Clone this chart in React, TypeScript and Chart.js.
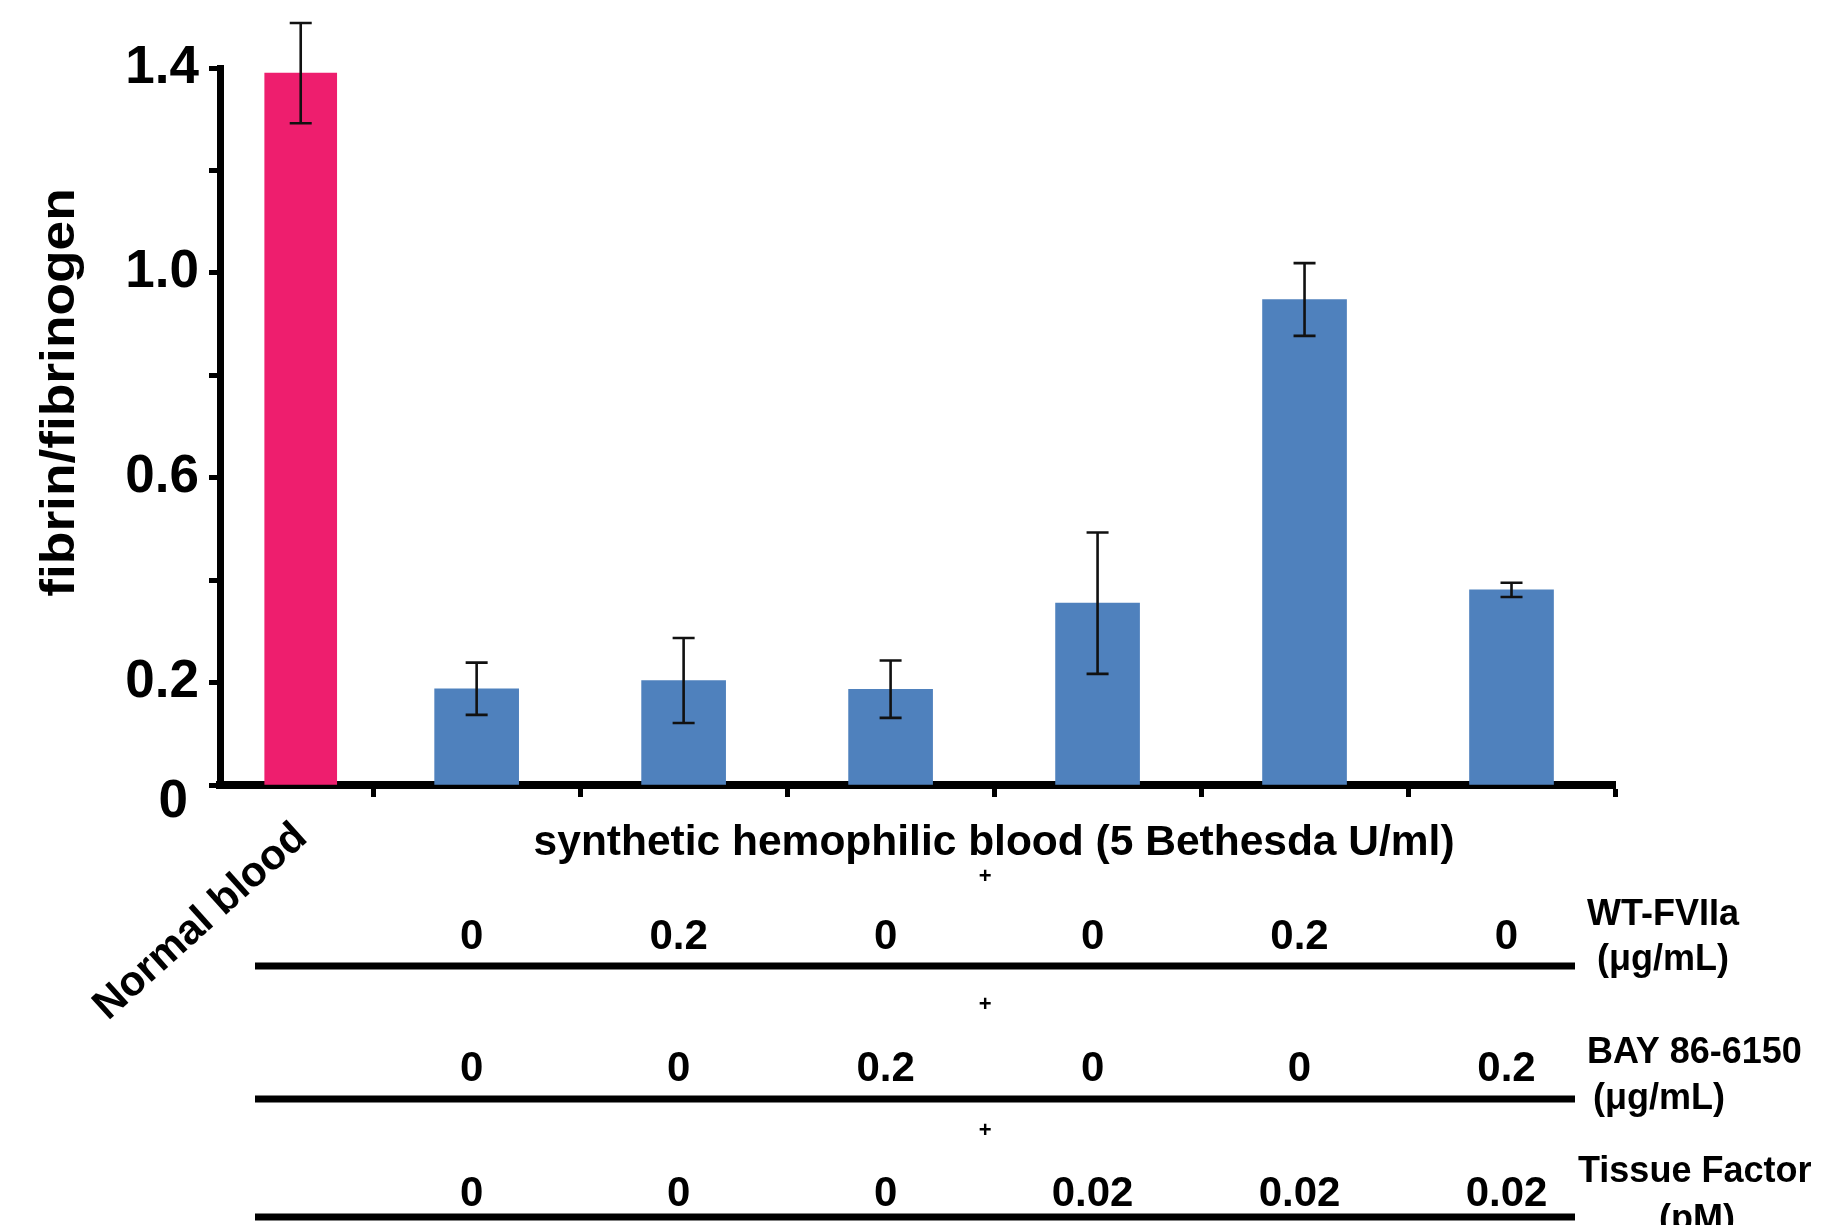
import React, { useEffect, useRef } from 'react';
import { Chart, registerables } from 'chart.js';

Chart.register(...registerables);

// ---------------- data ----------------
const normalBloodLabel = 'Normal blood';
const normalBloodPositions = [-0.85];
const normalBloodValues = [1.39];
const normalBloodErrors = [0.098];

const hemophilicLabel = 'synthetic hemophilic blood (5 Bethesda U/ml)';
const hemophilicPositions = [0, 1, 2, 3, 4, 5];
const hemophilicValues = [0.188, 0.204, 0.187, 0.355, 0.948, 0.381];
const hemophilicErrors = [0.051, 0.083, 0.056, 0.138, 0.071, 0.014];

const groupBoundaries = [-0.5, 0.5, 1.5, 2.5, 3.5, 4.5, 5.5];
const xMin = -1.24;
const xMax = 5.5;

const yTickValues = [0, 0.2, 0.4, 0.6, 0.8, 1.0, 1.2, 1.4];
const yLabeledTicks = [0.2, 0.6, 1.0, 1.4];
const yZeroLabel = '0';
const yTitle = 'fibrin/fibrinogen';

const wtFVIIaValues = ['0', '0.2', '0', '0', '0.2', '0'];
const bayValues = ['0', '0', '0.2', '0', '0', '0.2'];
const tissueFactorValues = ['0', '0', '0', '0.02', '0.02', '0.02'];
const wtFVIIaLabel = ['WT-FVIIa', '(μg/mL)'];
const bayLabel = ['BAY 86-6150', '(μg/mL)'];
const tissueFactorLabel = ['Tissue Factor', '(pM)'];
const plusSign = '+';

// ---------------- styling ----------------
const FONT = '"Liberation Sans", Arial, Helvetica, sans-serif';
const PINK = '#EE1E6E';
const BLUE = '#4F81BD';

function drawText(ctx: any, text: string, x: number, y: number, size: number, opts: any = {}) {
  const { weight = 'bold', align = 'center', baseline = 'alphabetic', rotation = 0, stretch = 1 } = opts;
  ctx.save();
  ctx.translate(x, y);
  if (rotation) ctx.rotate(rotation);
  if (stretch !== 1) ctx.scale(stretch, 1);
  ctx.font = `${weight} ${size}px ${FONT}`;
  ctx.textAlign = align;
  ctx.textBaseline = baseline;
  ctx.fillStyle = '#000';
  ctx.fillText(text, 0, 0);
  ctx.restore();
}

const figurePlugin = {
  id: 'figureAnnotations',
  afterDatasetsDraw(chart: any) {
    const ctx = chart.ctx;
    const yScale = chart.scales.y;
    const series = [
      [normalBloodValues, normalBloodErrors],
      [hemophilicValues, hemophilicErrors],
    ];
    ctx.save();
    ctx.strokeStyle = '#111';
    ctx.lineWidth = 2.6;
    series.forEach(([vals, errs]: any, di: number) => {
      const meta = chart.getDatasetMeta(di);
      meta.data.forEach((bar: any, i: number) => {
        const x = bar.x;
        const top = yScale.getPixelForValue(vals[i] + errs[i]);
        const bot = yScale.getPixelForValue(vals[i] - errs[i]);
        ctx.beginPath();
        ctx.moveTo(x, top);
        ctx.lineTo(x, bot);
        ctx.moveTo(x - 11, top);
        ctx.lineTo(x + 11, top);
        ctx.moveTo(x - 11, bot);
        ctx.lineTo(x + 11, bot);
        ctx.stroke();
      });
    });
    ctx.restore();
  },
  afterDraw(chart: any) {
    const ctx = chart.ctx;
    const xScale = chart.scales.x;
    const { left, right, bottom, top } = chart.chartArea;

    // y-axis title
    drawText(ctx, yTitle, 61, (top + bottom) / 2 - 34, 48, {
      rotation: -Math.PI / 2,
      baseline: 'middle',
      stretch: 1.11,
    });

    // zero label (offset below the axis)
    drawText(ctx, yZeroLabel, left - 32, bottom + 17, 53, { align: 'right', baseline: 'middle' });

    // Normal blood label
    const pinkX = xScale.getPixelForValue(normalBloodPositions[0]);
    drawText(ctx, normalBloodLabel, pinkX - 100, bottom + 137, 42, {
      rotation: (-42 * Math.PI) / 180,
      baseline: 'middle',
    });

    // group title
    const groupCenter = xScale.getPixelForValue(
      (hemophilicPositions[0] + hemophilicPositions[hemophilicPositions.length - 1]) / 2
    );
    drawText(ctx, hemophilicLabel, groupCenter, bottom + 58, 42.5, { baseline: 'middle' });

    const rows = [
      { values: wtFVIIaValues, label: wtFVIIaLabel, base: 164, line: 181, plus: 92,
        labelPos: [[right - 28, 140, 'left'], [right - 18, 185, 'left']] },
      { values: bayValues, label: bayLabel, base: 296, line: 314, plus: 220,
        labelPos: [[right - 28, 278, 'left'], [right - 22, 324, 'left']] },
      { values: tissueFactorValues, label: tissueFactorLabel, base: 421, line: 432, plus: 346,
        labelPos: [[right - 37, 397, 'left'], [right + 82, 445, 'center']] },
    ];

    rows.forEach((row: any) => {
      drawText(ctx, plusSign, groupCenter - 9, bottom + row.plus, 22, { baseline: 'middle' });
      row.values.forEach((v: string, i: number) => {
        const x = xScale.getPixelForValue(hemophilicPositions[i]) - 5;
        drawText(ctx, v, x, bottom + row.base, 42);
      });
      ctx.save();
      ctx.strokeStyle = '#000';
      ctx.lineWidth = 7;
      ctx.beginPath();
      ctx.moveTo(left + 35, bottom + row.line);
      ctx.lineTo(right - 40, bottom + row.line);
      ctx.stroke();
      ctx.restore();
      row.label.forEach((t: string, k: number) => {
        const [lx, ly, align] = row.labelPos[k];
        drawText(ctx, t, lx, bottom + ly, 36, { align });
      });
    });
  },
};

export default function App() {
  const canvasRef = useRef<HTMLCanvasElement | null>(null);

  useEffect(() => {
    if (!canvasRef.current) return;
    const chart = new Chart(canvasRef.current, {
      type: 'bar',
      data: {
        datasets: [
          {
            label: normalBloodLabel,
            data: normalBloodPositions.map((x, i) => ({ x, y: normalBloodValues[i] })),
            backgroundColor: PINK,
            barThickness: 72,
            stack: 'all',
          },
          {
            label: hemophilicLabel,
            data: hemophilicPositions.map((x, i) => ({ x, y: hemophilicValues[i] })),
            backgroundColor: BLUE,
            barThickness: 84,
            stack: 'all',
          },
        ],
      } as any,
      options: {
        animation: false,
        responsive: false,
        devicePixelRatio: 1,
        events: [],
        layout: { padding: { top: 68, right: 217, left: 0, bottom: 0 } },
        plugins: { legend: { display: false }, tooltip: { enabled: false } },
        scales: {
          x: {
            type: 'linear',
            min: xMin,
            max: xMax,
            offset: false,
            z: 1,
            afterBuildTicks: (scale: any) => {
              scale.ticks = groupBoundaries.map((v) => ({ value: v }));
            },
            afterFit: (scale: any) => {
              scale.height = 440;
            },
            ticks: { display: false },
            grid: {
              display: true,
              offset: false,
              drawOnChartArea: false,
              drawTicks: true,
              tickLength: 12,
              tickWidth: 5,
              tickColor: '#000',
            },
            border: { display: true, width: 8, color: '#000' },
          },
          y: {
            type: 'linear',
            min: 0,
            max: 1.4,
            stacked: false,
            z: 1,
            afterBuildTicks: (scale: any) => {
              scale.ticks = yTickValues.map((v) => ({ value: v }));
            },
            afterFit: (scale: any) => {
              scale.width = 220;
            },
            ticks: {
              padding: 10,
              color: '#000',
              font: { family: FONT, size: 53, weight: 'bold' },
              callback: (v: any) =>
                yLabeledTicks.some((t) => Math.abs(t - Number(v)) < 1e-9) ? Number(v).toFixed(1) : '',
            },
            grid: {
              display: true,
              drawOnChartArea: false,
              drawTicks: true,
              tickLength: 11,
              tickWidth: 5,
              tickColor: '#000',
            },
            border: { display: true, width: 7, color: '#000' },
          },
        },
      } as any,
      plugins: [figurePlugin],
    });
    return () => chart.destroy();
  }, []);

  return (
    <div style={{ position: 'fixed', left: 0, top: 0, width: 1832, height: 1225, background: '#fff' }}>
      <canvas ref={canvasRef} width={1832} height={1225} style={{ display: 'block' }} />
    </div>
  );
}
